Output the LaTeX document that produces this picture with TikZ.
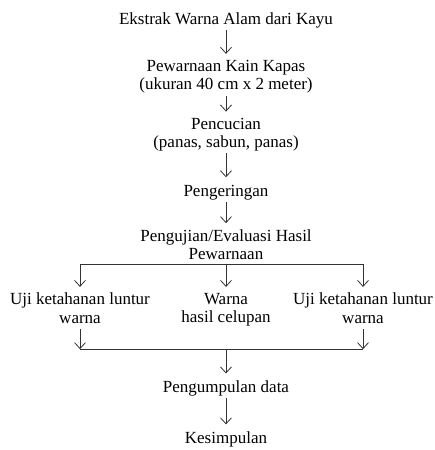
\documentclass[tikz,border=0pt]{standalone}
\usepackage{fontspec}
\setmainfont{Liberation Serif}
\usetikzlibrary{arrows.meta, positioning}
\tikzstyle{tahap} = [align=center, inner sep=0pt, font=\fontsize{17}{18.5}\selectfont, execute at begin node=\strut, execute at end node=\strut]
\tikzstyle{garis} = [draw=black!80, line width=0.8pt]
\tikzstyle{panah} = [garis, -{Straight Barb[length=6pt,width=11pt]}, shorten >=6pt]

\begin{document}
\begin{tikzpicture}[x=1pt, y=1pt]
\useasboundingbox (0,0) rectangle (435,-450);

% Tahapan
\node (ekstrak) [tahap] at (226,-20.4) {Ekstrak Warna Alam dari Kayu};
\node (pewarnaan) [tahap, below=30pt of ekstrak] {Pewarnaan Kain Kapas\\(ukuran 40 cm x 2 meter)};
\node (pencucian) [tahap, below=22pt of pewarnaan] {Pencucian\\(panas, sabun, panas)};
\node (pengeringan) [tahap, below=30pt of pencucian] {Pengeringan};
\node (evaluasi) [tahap, below=27pt of pengeringan] {Pengujian/Evaluasi Hasil\\Pewarnaan};

% Hasil pengujian
\node (celupan) [tahap, below=27.5pt of evaluasi] {Warna\\hasil celupan};
\node (ujikiri) [tahap, below=27.5pt of evaluasi, xshift=-146pt] {Uji ketahanan luntur\\warna};
\node (ujikanan) [tahap, below=27.5pt of evaluasi, xshift=137pt] {Uji ketahanan luntur\\warna};

\node (pengumpulan) [tahap, below=51pt of celupan] {Pengumpulan data};
\node (kesimpulan) [tahap, below=32pt of pengumpulan] {Kesimpulan};

% Titik cabang dan gabung
\coordinate (cabang) at ([yshift=1pt]evaluasi.south);
\coordinate (gabung) at ([yshift=-20pt]ujikiri.south -| celupan);

% Panah
\draw [panah] (ekstrak) -- (pewarnaan);
\draw [panah] (pewarnaan) -- (pencucian);
\draw [panah] (pencucian) -- (pengeringan);
\draw [panah] (pengeringan) -- (evaluasi);

\draw [garis] (cabang -| ujikiri) -- (cabang -| ujikanan);
\foreach \n in {ujikiri, celupan, ujikanan}
  \draw [panah] (cabang -| \n) -- (\n);

\draw [panah, shorten >=0pt] (ujikiri) -- (gabung -| ujikiri);
\draw [panah, shorten >=0pt] (ujikanan) -- (gabung -| ujikanan);
\draw [garis] (gabung -| ujikiri) -- (gabung -| ujikanan);
\draw [panah] (gabung) -- (pengumpulan);
\draw [panah] (pengumpulan) -- (kesimpulan);

\end{tikzpicture}
\end{document}
